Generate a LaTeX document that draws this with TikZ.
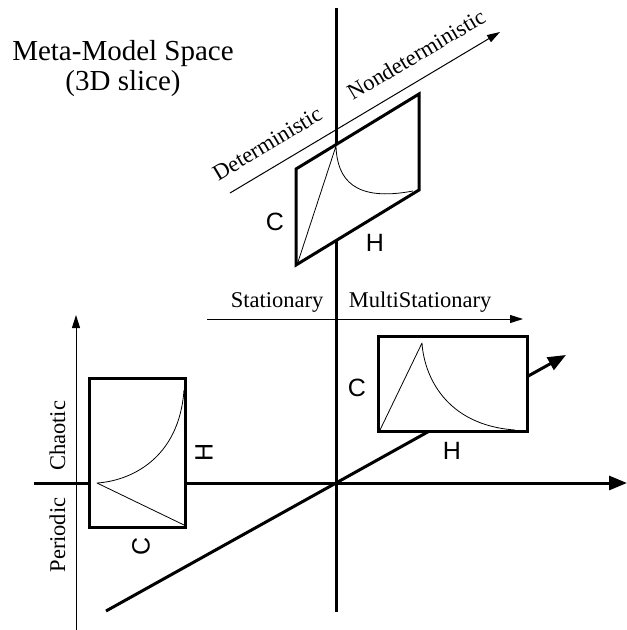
\documentclass[tikz,border=0pt]{standalone}
\usepackage{fontspec}
\setmainfont{Liberation Serif}
\newfontfamily\sansC{Liberation Sans}
\usetikzlibrary{arrows.meta}
\begin{document}
\begin{tikzpicture}[x=1pt,y=-1pt,
  axisthick/.style={line width=3pt},
  axisthin/.style={line width=1pt},
  boxframe/.style={line width=3pt, fill=white},
  innercurve/.style={line width=0.8pt, line join=round},
  seriflbl/.style={font=\fontsize{22.5}{26}\selectfont, inner sep=0pt},
  sanslbl/.style={font=\sansC\fontsize{25}{30}\selectfont, inner sep=0pt},
  titlelbl/.style={font=\fontsize{29}{32}\selectfont, inner sep=0pt, anchor=base},
  bigtip/.style={-{Triangle[length=18pt,width=14pt]}},
  smalltip/.style={-{Triangle[length=13pt,width=8pt]}}
]
\useasboundingbox (0,0) rectangle (627,630);
% axis end points
\coordinate (vtop) at (336,8);
\coordinate (vbot) at (336,612);
\coordinate (hleft) at (34,483);
\coordinate (hright) at (627,483);
\coordinate (dstart) at (106,611);
\coordinate (dend) at (566,355);
\coordinate (lbot) at (76,630);
\coordinate (ltop) at (76,315);
\coordinate (sleft) at (207,319);
\coordinate (sright) at (523,319);
\coordinate (detl) at (230,193);
\coordinate (detr) at (500,32);
% axes
\draw[axisthick] (vtop) -- (vbot);
\draw[axisthick, bigtip] (hleft) -- (hright);
\draw[axisthick, bigtip] (dstart) -- (dend);
\draw[axisthin, smalltip] (lbot) -- (ltop);
\draw[axisthin, smalltip] (sleft) -- (sright);
\draw[axisthin, smalltip] (detl) -- (detr);
% boxes
\draw[boxframe] (296,265) -- (419,190) -- (419,94) -- (296,169) -- cycle;
\draw[boxframe] (378,336) rectangle (527,431);
\draw[boxframe] (89,378) rectangle (185,527);
% inner curves
\draw[innercurve] (298,262) -- (336,146) .. controls (337,180) and (355,202) .. (413,191);
\draw[innercurve] (380,430) -- (422,343) .. controls (424,375) and (445,425) .. (515,430);
\draw[innercurve] (184,525) -- (97,483) .. controls (129,481) and (179,460) .. (184,390);
% C / H labels
\node[sanslbl] (cTop) at (275,222) {C};
\node[sanslbl] (hTop) at (375,243) {H};
\node[sanslbl] (cRight) at (357,388) {C};
\node[sanslbl] (hRight) at (452,451) {H};
\node[sanslbl, rotate=90] (hLeft) at (204,452) {H};
\node[sanslbl, rotate=90] (cLeft) at (141,546) {C};
% axis labels
\node[seriflbl, anchor=base] (stat) at (277,307) {Stationary};
\node[seriflbl, anchor=base] (mstat) at (420,307) {MultiStationary};
\node[seriflbl, anchor=base, rotate=90] (chaotic) at (65,436) {Chaotic};
\node[seriflbl, anchor=base, rotate=90] (periodic) at (65,535) {Periodic};
\node[seriflbl, anchor=base, rotate=30.8] (det) at (271,150) {Deterministic};
\node[seriflbl, anchor=base, rotate=30.8] (nondet) at (420,61) {Nondeterministic};
% title
\node[titlelbl] (title1) at (123,60) {Meta-Model Space};
\node[titlelbl] (title2) at (123,90) {(3D slice)};
\end{tikzpicture}
\end{document}
